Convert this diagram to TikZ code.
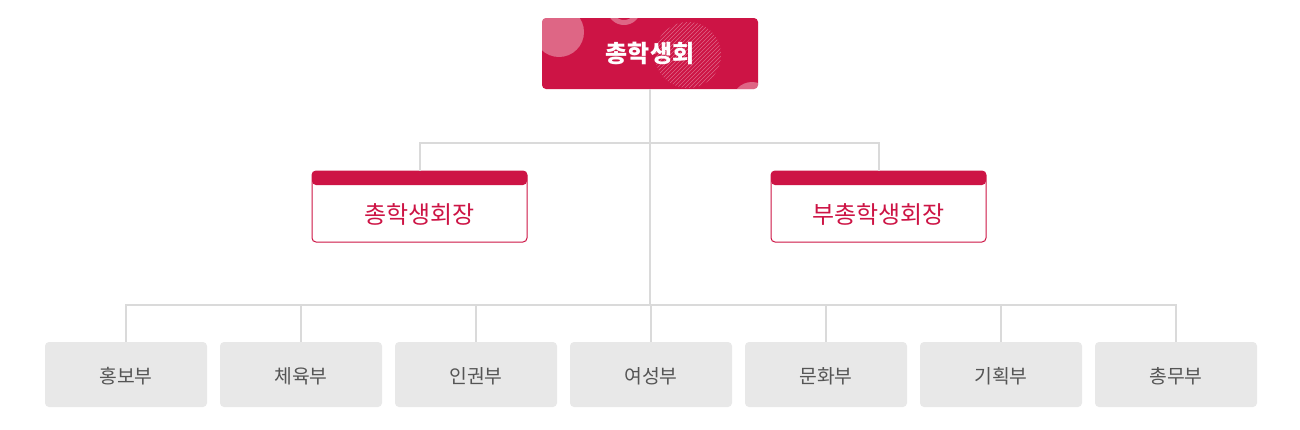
\documentclass[tikz,border=0pt]{standalone}
\usepackage{fontspec}
\newfontfamily\kr{Noto Sans CJK KR}
\usetikzlibrary{calc,patterns}
\definecolor{crimson}{HTML}{CD1445}
\definecolor{linegray}{HTML}{DADADA}
\definecolor{boxgray}{HTML}{E8E8E8}
\definecolor{textgray}{HTML}{555555}
\newcommand{\dept}[1]{\raisebox{-7pt}[0pt][0pt]{#1}}
\begin{document}
\begin{tikzpicture}
[x=0.75pt, y=-0.75pt, node distance=131.25pt,
ar/.style={draw=linegray, line width=1.5pt},
mynode/.style={
  rounded corners=3pt, inner sep=0pt,
  align=center, font=\kr
  }
]

\tikzstyle{topnode}  =  [mynode, fill=crimson, text=white, minimum width=162pt, minimum height=53.25pt]
\tikzstyle{vicenode}  =  [mynode, draw=crimson, line width=0.75pt, fill=white, text=crimson, minimum width=161.25pt, minimum height=53.25pt, font=\kr\fontsize{18}{20}\selectfont,
  path picture={\fill[crimson] (path picture bounding box.north west) rectangle ([yshift=-10.5pt]path picture bounding box.north east);}]
\tikzstyle{deptnode}  =  [mynode, fill=boxgray, text=textgray, minimum width=121.5pt, minimum height=48.75pt, font=\kr\fontsize{14.5}{16}\selectfont]

\useasboundingbox[fill=white] (0,0) rectangle (1300,429);

% top
\node[topnode, path picture={
  \fill[white, opacity=0.35] ($(path picture bounding box.center)+(-91,-21.5)$) circle (25);
  \draw[white, opacity=0.35, line width=3.75pt] ($(path picture bounding box.center)+(-26,-45.5)$) circle (14.5);
  \fill[pattern=north east lines, pattern color=white!35!crimson] ($(path picture bounding box.center)+(38,1.5)$) circle (33);
  \fill[white, opacity=0.35] ($(path picture bounding box.center)+(102,48.5)$) circle (20);
  }] (top) at (650,53.5) {};
\node[text=white, font=\kr\fontsize{18}{20}\selectfont\bfseries] (toptext) at (top.center) {총학생회};

% vice
\node[vicenode] (pres) at (419.5,206.5) {\rule{0pt}{10.5pt}\\[-4pt]총학생회장};
\node[vicenode] (vpres) at (878.5,206.5) {\rule{0pt}{10.5pt}\\[-4pt]부총학생회장};

% departments
\node[deptnode] (d1) at (126,374.5) {\dept{홍보부}};
\node[deptnode] (d2) [right of=d1] {\dept{체육부}};
\node[deptnode] (d3) [right of=d2] {\dept{인권부}};
\node[deptnode] (d4) [right of=d3] {\dept{여성부}};
\node[deptnode] (d5) [right of=d4] {\dept{문화부}};
\node[deptnode] (d6) [right of=d5] {\dept{기획부}};
\node[deptnode] (d7) [right of=d6] {\dept{총무부}};

%edges
\coordinate (j1) at (650,143);
\coordinate (j2) at (650,305);

\draw[ar] (top.south) -- (j1);
\draw[ar] (j1) -| (pres.north);
\draw[ar] (j1) -| (vpres.north);
\draw[ar] (j1) -- (j2);
\foreach \d in {d1,d2,d3,d4,d5,d6,d7}
  \draw[ar] (j2) -| (\d.north);

\end{tikzpicture}
\end{document}
